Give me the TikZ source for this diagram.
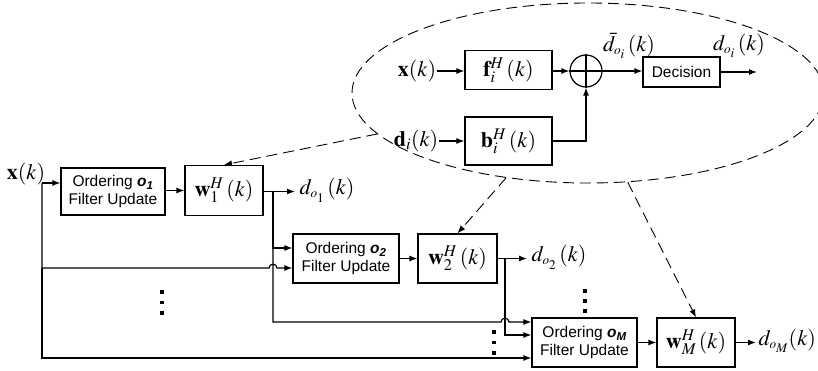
\documentclass[tikz,border=0pt]{standalone}
\usepackage{mathptmx}
\usepackage[no-math]{fontspec}
\setmainfont{Liberation Sans}
\usetikzlibrary{arrows.meta,shapes.geometric}
\newcommand{\osub}[1]{{\scriptscriptstyle o_{#1}}}
\begin{document}
\begin{tikzpicture}[x=1pt,y=-1pt,
  line width=1.2pt,
  >={Latex[length=8pt,width=6pt]},
  blk/.style={draw, rectangle, inner sep=0pt, align=center, font=\fontsize{15.5}{18}\selectfont},
  wbox/.style={draw, rectangle, inner sep=0pt, font=\fontsize{22}{26}\selectfont},
  mth/.style={inner sep=0pt, font=\fontsize{22}{26}\selectfont},
  dsh/.style={dash pattern=on 11pt off 6pt, line width=0.9pt}
]
\useasboundingbox (0,0) rectangle (818,371);

% ---------- detail (ellipse) ----------
\node[ellipse, draw, dsh, minimum width=472pt, minimum height=180pt, inner sep=0pt] (ell) at (588,93) {};

\node[mth] (xt) at (417,71) {$\mathbf{x}(k)$};
\node[mth] (dt) at (416,141) {$\mathbf{d}_i(k)$};
\node[wbox, minimum width=87pt, minimum height=39pt] (fb) at (508.5,70) {$\mathbf{f}_i^H\,(k)$};
\node[wbox, minimum width=87pt, minimum height=48pt] (bb) at (508.5,141) {$\mathbf{b}_i^H\,(k)$};
\node[circle, draw, minimum size=32pt, inner sep=0pt] (add) at (586,71) {};
\draw (add.north) -- (add.south) (add.west) -- (add.east);
\node[blk, minimum width=77pt, minimum height=30pt] (dec) at (681.5,72) {Decision};
\coordinate (dout) at (757,72);
\node[mth] (dbar) at (629,46) {$\bar{d}_{\osub{i}}\,(k)$};
\node[mth] (doi) at (739,46) {$d_{\osub{i}}\,(k)$};

\draw[->] (xt) -- (fb.west |- xt);
\draw[->] (dt) -- (bb.west |- dt);
\draw[->] (fb.east |- add) -- (add.west);
\draw[->] (bb.east) -| (add.south);
\draw[->] (add.east) -- (dec.west |- add);
\draw[->] (dec.east) -- (dout);

% ---------- main chain ----------
\node[mth] (xb) at (26,174) {$\mathbf{x}(k)$};
\coordinate (xs) at (42,183);

\node[blk, minimum width=104pt, minimum height=47pt] (o1) at (113,191.5) {Ordering {\bfseries\itshape o\textsubscript{1}}\\Filter Update};
\node[wbox, minimum width=78pt, minimum height=50pt] (w1) at (224,190.5) {$\mathbf{w}_1^H\,(k)$};
\coordinate (j1) at (273,191.5);
\coordinate (d1e) at (295,191.5);
\node[mth, anchor=west] (d1) at (299,190) {$d_{\osub{1}}\,(k)$};

\node[blk, minimum width=106pt, minimum height=49pt] (o2) at (346,258.5) {Ordering {\bfseries\itshape o\textsubscript{2}}\\Filter Update};
\node[wbox, minimum width=79pt, minimum height=49pt] (w2) at (457.5,258.5) {$\mathbf{w}_2^H\,(k)$};
\coordinate (j2) at (505,258.5);
\coordinate (d2e) at (527,258.5);
\node[mth, anchor=west] (d2) at (531,257) {$d_{\osub{2}}\,(k)$};

\node[blk, minimum width=105pt, minimum height=49pt] (oM) at (584.5,342.5) {Ordering {\bfseries\itshape o\textsubscript{M}}\\Filter Update};
\node[wbox, minimum width=78pt, minimum height=49pt] (wM) at (696,342.5) {$\mathbf{w}_M^H\,(k)$};
\coordinate (dMe) at (756,342.5);
\node[mth, anchor=west] (dM) at (758,341) {$d_{\osub{M}}(k)$};

\coordinate (b1) at (273,248);
\coordinate (x2) at (42,268);
\coordinate (x3) at (42,358);

% stage 1
\draw[->] (xs) -- (o1.west |- xs);
\draw[->] (o1.east |- w1) -- (w1.west);
\draw[->] (w1.east |- j1) -- (d1e);
% stage 2 inputs
\draw[->] (j1) -- (b1) -- (o2.west |- b1);
\draw[->] (xs) -- (x2) -- (269,268) .. controls (269,263) and (277,263) .. (277,268) -- (o2.west |- x2);
\draw[->] (o2) -- (w2);
\draw[->] (w2.east) -- (d2e);
% stage M inputs
\draw[->] (b1) |- (501,322) .. controls (501,317) and (509,317) .. (509,322) -- (oM.west |- 0,322);
\draw[->] (j2) |- (oM.west |- 0,335);
\draw[->] (x2) -- (x3) -- (oM.west |- x3);
\draw[->] (oM) -- (wM);
\draw[->] (wM.east) -- (dMe);

% dashed links
\draw[dsh,->] (ell.191) -- (w1.north);
\draw[dsh,->] (ell.226) -- (w2.north);
\draw[dsh,->] (ell.294) -- (wM.north);

% vertical dots
\foreach \px/\py in {162/292,162/302.5,162/313, 585/291,585/301,585/311, 494/332,494/342.5,494/353}
  \fill (\px-1.8,\py-1.8) rectangle (\px+1.8,\py+1.8);
\end{tikzpicture}
\end{document}
